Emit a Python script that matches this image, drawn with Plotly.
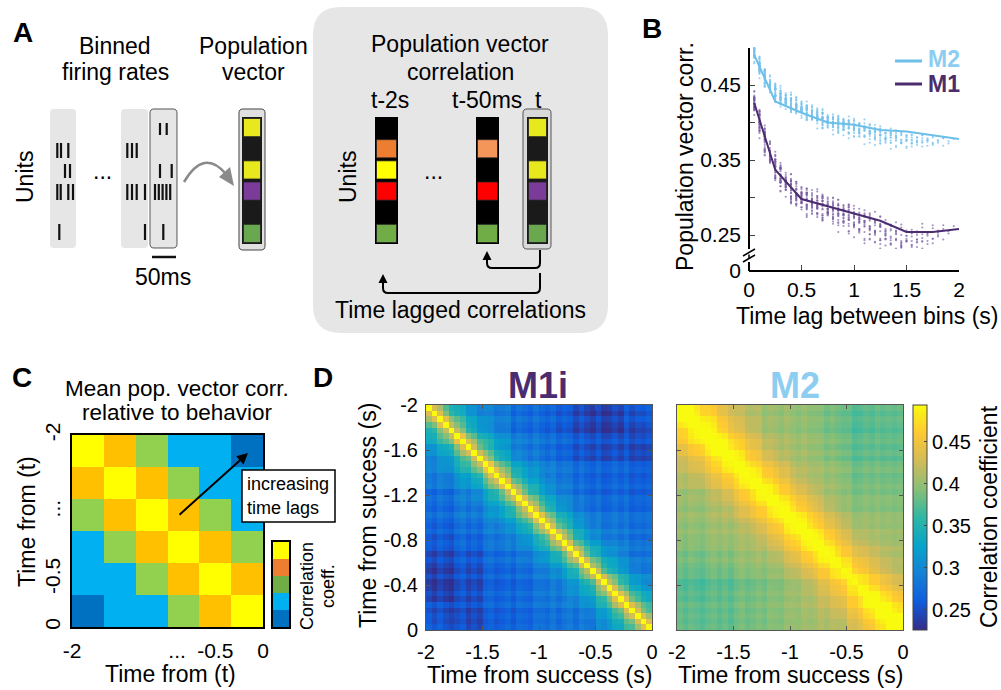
import numpy as np
import plotly.graph_objects as go

W, H = 1001, 690
FONT = "Liberation Sans, Arial, Helvetica, sans-serif"

# ---------------- DATA ----------------
# Panel B: mean population-vector correlation lines (time lag in s)
lag_line_s = [0.05, 0.25, 0.5, 0.75, 1.0, 1.25, 1.5, 1.75, 2.0]
m2_line_corr = [0.490, 0.428, 0.413, 0.400, 0.397, 0.390, 0.388, 0.383, 0.378]
m1_line_corr = [0.426, 0.337, 0.298, 0.288, 0.279, 0.269, 0.254, 0.254, 0.258]

# Mean correlation per lag (lag = k * 50 ms, k = 1..39)
# panel B clouds
m1_lag_profile = [0.420, 0.395, 0.372, 0.352, 0.338, 0.326, 0.318, 0.310, 0.304, 0.300,
                  0.297, 0.295, 0.293, 0.291, 0.289, 0.287, 0.285, 0.283, 0.281, 0.279,
                  0.277, 0.275, 0.273, 0.271, 0.269, 0.266, 0.263, 0.260, 0.257, 0.256,
                  0.256, 0.256, 0.256, 0.256, 0.256, 0.257, 0.257, 0.258, 0.258]
m2_lag_profile = [0.488, 0.470, 0.456, 0.445, 0.436, 0.430, 0.426, 0.423, 0.420, 0.417,
                  0.414, 0.411, 0.408, 0.405, 0.403, 0.401, 0.400, 0.399, 0.398, 0.397,
                  0.396, 0.395, 0.394, 0.392, 0.391, 0.390, 0.390, 0.389, 0.389, 0.388,
                  0.387, 0.386, 0.385, 0.384, 0.383, 0.382, 0.381, 0.380, 0.379]
# panel D heatmaps
m1i_lag_profile = [0.425, 0.388, 0.362, 0.342, 0.328, 0.316, 0.306, 0.298, 0.292, 0.288,
                   0.285, 0.283, 0.281, 0.279, 0.277, 0.276, 0.275, 0.274, 0.273, 0.272,
                   0.271, 0.270, 0.269, 0.268, 0.267, 0.265, 0.263, 0.261, 0.259, 0.258,
                   0.257, 0.257, 0.257, 0.258, 0.258, 0.259, 0.260, 0.262, 0.264]
m2d_lag_profile = [0.490, 0.480, 0.468, 0.458, 0.449, 0.440, 0.432, 0.425, 0.419, 0.414,
                   0.410, 0.407, 0.405, 0.403, 0.401, 0.400, 0.399, 0.398, 0.397, 0.396,
                   0.395, 0.394, 0.393, 0.393, 0.392, 0.391, 0.390, 0.390, 0.389, 0.389,
                   0.388, 0.388, 0.387, 0.387, 0.386, 0.386, 0.386, 0.386, 0.386]

# Regional deviations (8 x 8 blocks of 250 ms), rows: -2 s -> 0 s
m1_block_offsets = [
    [0.008, 0.004, 0.000, -0.004, -0.008, -0.016, -0.018, -0.008],
    [0.004, 0.008, 0.004, 0.000, -0.004, -0.012, -0.016, -0.012],
    [0.000, 0.004, 0.008, 0.004, 0.000, -0.004, -0.008, -0.008],
    [-0.004, 0.000, 0.004, 0.008, 0.004, 0.000, -0.004, -0.004],
    [-0.008, -0.004, 0.000, 0.004, 0.008, 0.004, 0.000, 0.000],
    [-0.016, -0.012, -0.004, 0.000, 0.004, 0.008, 0.004, 0.000],
    [-0.018, -0.016, -0.008, -0.004, 0.000, 0.004, 0.008, 0.004],
    [-0.008, -0.012, -0.008, -0.004, 0.000, 0.000, 0.004, 0.008]]
m2_block_offsets = [
    [0.008, 0.008, 0.004, 0.000, 0.000, -0.004, -0.012, -0.010],
    [0.008, 0.008, 0.004, 0.000, 0.000, -0.004, -0.012, -0.012],
    [0.004, 0.004, 0.004, 0.004, 0.000, 0.000, -0.008, -0.008],
    [0.000, 0.000, 0.004, 0.004, 0.004, 0.000, -0.004, -0.004],
    [0.000, 0.000, 0.000, 0.004, 0.004, 0.004, 0.000, 0.000],
    [-0.004, -0.004, 0.000, 0.000, 0.004, 0.004, 0.004, 0.004],
    [-0.012, -0.012, -0.008, -0.004, 0.000, 0.004, 0.004, 0.008],
    [-0.010, -0.012, -0.008, -0.004, 0.000, 0.004, 0.008, 0.008]]

# Per-bin deviations (40 bins of 50 ms), giving row/column texture
m1_bin_dev = [0.006, -0.004, 0.008, -0.002, -0.009, 0.003, 0.010, -0.006, 0.002, -0.008,
              0.005, 0.009, -0.003, 0.001, 0.007, -0.010, 0.004, -0.001, -0.007, 0.008,
              0.002, -0.005, 0.006, -0.009, 0.000, 0.004, -0.011, 0.003, -0.006, -0.012,
              0.005, -0.008, -0.004, 0.007, -0.002, 0.009, -0.005, 0.003, -0.001, 0.006]
m2_bin_dev = [0.005, -0.002, 0.004, 0.000, -0.005, 0.003, 0.006, -0.002, 0.004, -0.004,
              0.001, 0.005, -0.003, 0.000, 0.004, -0.005, 0.002, 0.000, -0.004, 0.005,
              0.001, -0.003, 0.004, -0.001, 0.000, 0.003, -0.005, 0.001, -0.004, -0.007,
              0.002, -0.008, -0.005, 0.001, -0.003, 0.004, -0.001, 0.003, 0.000, 0.004]

bin_width_s = 0.05
n_bins = 40
block_size = 5
window_start_s = -2.0

# Panel C schematic: colour level by lag (cells)
c_lag_levels = [5, 4, 3, 2, 2, 1]
c_level_colors = ['#0070c0', '#00b0f0', '#92d050', '#ffc000', '#ffff00']
c_cbar_colors = ['#0070c0', '#00b0f0', '#70ad47', '#ed7d31', '#ffff00']

parula = ["#352a87", "#0f5cdd", "#1481d6", "#06a4ca", "#2eb7a4",
          "#87bf77", "#d1bb59", "#fec832", "#f9fb0e"]
d_zmin, d_zmax = 0.226, 0.494
d_cbar_ticks = [0.25, 0.3, 0.35, 0.4, 0.45]
d_x_ticks = [-2, -1.5, -1, -0.5, 0]
d_y_ticks = [-2, -1.6, -1.2, -0.8, -0.4, 0]

M2_COL = '#6cbfe8'
M2_TXT = '#8ccdf0'
M1_COL = '#4b2c6e'

TXT = 23      # main text size
TICK = 21     # tick label size

# ---------------- helpers ----------------
def X(x):
    return x / W

def Y(y):
    return 1 - y / H

def P(x, y):
    return f"{X(x):.5f},{Y(y):.5f}"

shapes = []
annotations = []

def rect(x0, y0, x1, y1, fill, line=None, lw=0):
    shapes.append(dict(type='rect', xref='paper', yref='paper',
                       x0=X(x0), x1=X(x1), y0=Y(y1), y1=Y(y0),
                       fillcolor=fill, line=dict(color=line or fill, width=lw)))

def path(d, fill=None, line='black', lw=1.5):
    s = ''
    for c in d:
        if c[0] == 'Z':
            s += ' Z'
        elif c[0] == 'Q':
            s += f" Q {P(c[1], c[2])} {P(c[3], c[4])}"
        else:
            s += f" {c[0]} {P(c[1], c[2])}"
    shp = dict(type='path', xref='paper', yref='paper', path=s.strip(),
               line=dict(color=line if line else 'rgba(0,0,0,0)', width=lw if line else 0))
    if fill:
        shp['fillcolor'] = fill
    shapes.append(shp)

def rrect(x0, y0, x1, y1, r, fill, line=None, lw=0):
    d = [('M', x0 + r, y0), ('L', x1 - r, y0), ('Q', x1, y0, x1, y0 + r),
         ('L', x1, y1 - r), ('Q', x1, y1, x1 - r, y1), ('L', x0 + r, y1),
         ('Q', x0, y1, x0, y1 - r), ('L', x0, y0 + r), ('Q', x0, y0, x0 + r, y0), ('Z',)]
    path(d, fill=fill, line=line, lw=lw)

def line(x0, y0, x1, y1, color='black', w=1.5):
    shapes.append(dict(type='line', xref='paper', yref='paper',
                       x0=X(x0), y0=Y(y0), x1=X(x1), y1=Y(y1),
                       line=dict(color=color, width=w)))

def ann(text, x, y, size=TXT, bold=False, color='black', angle=0,
        xanchor='center', align='center'):
    if bold:
        text = f"<b>{text}</b>"
    annotations.append(dict(text=text, x=X(x), y=Y(y), xref='paper', yref='paper',
                            showarrow=False, xanchor=xanchor, yanchor='middle',
                            align=align, textangle=angle,
                            font=dict(family=FONT, size=size, color=color)))

def pop_vector(x0, x1, y0, y1, colors, bg='black'):
    rect(x0, y0, x1, y1, bg)
    slot = (y1 - y0) / len(colors)
    for i, c in enumerate(colors):
        if c:
            rect(x0 + 1.5, y0 + i * slot + 1.5, x1 - 1.5, y0 + (i + 1) * slot - 1.5,
                 c, line='#222', lw=0.8)

# ---------------- matrices for panel D (and dots in B) ----------------
def build_matrix(profile, offsets, dev):
    O = np.array(offsets, dtype=float)
    O = (O + O.T) / 2
    M = np.ones((n_bins, n_bins))
    for i in range(n_bins):
        for j in range(n_bins):
            k = abs(i - j)
            if k > 0:
                M[i, j] = (profile[k - 1] + O[i // block_size, j // block_size]
                           + dev[i] + dev[j])
    return M

M1 = build_matrix(m1_lag_profile, m1_block_offsets, m1_bin_dev)
M2 = build_matrix(m2_lag_profile, m2_block_offsets, m2_bin_dev)
M1i_heat = build_matrix(m1i_lag_profile, m1_block_offsets, m1_bin_dev)
M2_heat = build_matrix(m2d_lag_profile, m2_block_offsets, m2_bin_dev)
centers = [window_start_s + bin_width_s * (i + 0.5) for i in range(n_bins)]

def lag_dots(M):
    xs, ys = [], []
    for k in range(1, n_bins):
        for i in range(n_bins - k):
            xs.append(k * bin_width_s)
            ys.append(M[i, i + k])
    return xs, ys

m2_dx, m2_dy = lag_dots(M2)
m1_dx, m1_dy = lag_dots(M1)

parula_scale = [[i / (len(parula) - 1), c] for i, c in enumerate(parula)]

fig = go.Figure()

# ---- Panel D heatmaps ----
fig.add_trace(go.Heatmap(z=M1i_heat, x=centers, y=centers, xaxis='x4', yaxis='y4',
                         colorscale=parula_scale, zmin=d_zmin, zmax=d_zmax,
                         showscale=False, hoverinfo='skip'))
fig.add_trace(go.Heatmap(z=M2_heat, x=centers, y=centers, xaxis='x5', yaxis='y5',
                         colorscale=parula_scale, zmin=d_zmin, zmax=d_zmax,
                         hoverinfo='skip',
                         colorbar=dict(x=X(913), xanchor='left', y=Y(517.5), yanchor='middle',
                                       len=225, lenmode='pixels', thickness=14,
                                       thicknessmode='pixels', outlinewidth=1,
                                       outlinecolor='#444', tickvals=d_cbar_ticks,
                                       ticktext=[str(v) for v in d_cbar_ticks],
                                       ticks='inside', ticklen=3, tickcolor='#444',
                                       tickfont=dict(family=FONT, size=20, color='black'),
                                       xpad=0, ypad=0)))

# ---- Panel C heatmap ----
nc = len(c_lag_levels)
cz = [[c_lag_levels[abs(i - j)] for j in range(nc)] for i in range(nc)]
cc = [-2 + (i + 0.5) * 2 / nc for i in range(nc)]
c_scale = []
for k, c in enumerate(c_level_colors):
    c_scale += [[k / len(c_level_colors), c], [(k + 1) / len(c_level_colors), c]]
fig.add_trace(go.Heatmap(z=cz, x=cc, y=cc, xaxis='x3', yaxis='y3', colorscale=c_scale,
                         zmin=0.5, zmax=len(c_level_colors) + 0.5, showscale=False,
                         hoverinfo='skip'))
cb_scale = []
for k, c in enumerate(c_cbar_colors):
    cb_scale += [[k / len(c_cbar_colors), c], [(k + 1) / len(c_cbar_colors), c]]
fig.add_trace(go.Heatmap(z=[[k + 1] for k in range(len(c_cbar_colors))], x=[0],
                         y=list(range(1, len(c_cbar_colors) + 1)), xaxis='x6', yaxis='y6',
                         colorscale=cb_scale, zmin=0.5, zmax=len(c_cbar_colors) + 0.5,
                         showscale=False, hoverinfo='skip'))

# ---- Panel B ----
fig.add_trace(go.Scatter(x=m2_dx, y=m2_dy, mode='markers', xaxis='x', yaxis='y',
                         marker=dict(size=2.2, color='rgba(120,195,238,0.75)'),
                         hoverinfo='skip', showlegend=False))
fig.add_trace(go.Scatter(x=m1_dx, y=m1_dy, mode='markers', xaxis='x', yaxis='y',
                         marker=dict(size=2.2, color='rgba(120,90,160,0.65)'),
                         hoverinfo='skip', showlegend=False))
fig.add_trace(go.Scatter(x=lag_line_s, y=m2_line_corr, mode='lines', xaxis='x', yaxis='y',
                         line=dict(color=M2_COL, width=2), hoverinfo='skip', showlegend=False))
fig.add_trace(go.Scatter(x=lag_line_s, y=m1_line_corr, mode='lines', xaxis='x', yaxis='y',
                         line=dict(color=M1_COL, width=2), hoverinfo='skip', showlegend=False))
# invisible trace so that the lower (broken) y axis has a subplot
fig.add_trace(go.Scatter(x=[None], y=[None], xaxis='x', yaxis='y2', mode='markers',
                         hoverinfo='skip', showlegend=False))

tickfont = dict(family=FONT, size=TICK, color='black')
dtickfont = dict(family=FONT, size=20, color='black')

# B axis geometry
b_y_top_px, b_y_bot_px = 47.5, 249
v_per_px = 0.1 / 75.0
b_range = [0.25 - (b_y_bot_px - 235) * v_per_px, 0.45 + (85 - b_y_top_px) * v_per_px]

common = dict(showgrid=False, zeroline=False, automargin=False)
layout_axes = dict(
    xaxis=dict(domain=[X(749), X(959)], range=[0, 2], anchor='free', position=Y(271),
               showline=True, linecolor='black', linewidth=1.5, ticks='inside', ticklen=5,
               tickvals=[0, 0.5, 1, 1.5, 2], ticktext=['0', '0.5', '1', '1.5', '2'],
               tickfont=tickfont, ticklabelstandoff=0, **common),
    yaxis=dict(domain=[Y(b_y_bot_px), Y(b_y_top_px)], range=b_range, anchor='free',
               position=X(749),
               showline=True, linecolor='black', linewidth=1.5, ticks='inside', ticklen=5,
               tickvals=[0.25, 0.3, 0.35, 0.4, 0.45, 0.5],
               ticktext=['0.25', '', '0.35', '', '0.45', ''],
               tickfont=tickfont, ticklabelstandoff=3, **common),
    yaxis2=dict(domain=[Y(271), Y(262)], range=[0, 0.02], anchor='free', position=X(749),
                showline=True, linecolor='black', linewidth=1.5, ticks='', tickvals=[0],
                ticktext=['0'], tickfont=tickfont, ticklabelstandoff=3, **common),
    xaxis3=dict(domain=[X(72), X(263)], range=[-2, 0], anchor='y3', showline=True,
                mirror=True, linecolor='black', linewidth=2, ticks='',
                tickvals=[-2, -0.9, -0.5, 0], ticktext=['-2', '...', '-0.5', '0'],
                tickfont=tickfont, ticklabelstandoff=4, **common),
    yaxis3=dict(domain=[Y(627), Y(435)], range=[0, -2], anchor='x3', showline=True,
                mirror=True, linecolor='black', linewidth=2, ticks='',
                tickvals=[-2, -1.2, -0.5, 0], ticktext=['-2', '...', '-0.5', '0'],
                tickangle=-90, tickfont=tickfont, ticklabelstandoff=2, **common),
    xaxis4=dict(domain=[X(426), X(652)], range=[-2, 0], anchor='y4', showline=True,
                mirror='ticks', linecolor='#555', linewidth=1, ticks='inside', ticklen=4,
                tickcolor='#555', tickvals=d_x_ticks, ticktext=[str(v) for v in d_x_ticks],
                tickfont=dtickfont, ticklabelstandoff=4, **common),
    yaxis4=dict(domain=[Y(630), Y(405)], range=[0, -2], anchor='x4', showline=True,
                mirror='ticks', linecolor='#555', linewidth=1, ticks='inside', ticklen=4,
                tickcolor='#555', tickvals=d_y_ticks, ticktext=[str(v) for v in d_y_ticks],
                tickfont=dtickfont, ticklabelstandoff=3, **common),
    xaxis5=dict(domain=[X(677), X(903)], range=[-2, 0], anchor='y5', showline=True,
                mirror='ticks', linecolor='#555', linewidth=1, ticks='inside', ticklen=4,
                tickcolor='#555', tickvals=d_x_ticks, ticktext=[str(v) for v in d_x_ticks],
                tickfont=dtickfont, ticklabelstandoff=4, **common),
    yaxis5=dict(domain=[Y(630), Y(405)], range=[0, -2], anchor='x5', showline=True,
                mirror='ticks', linecolor='#555', linewidth=1, ticks='inside', ticklen=4,
                tickcolor='#555', tickvals=d_y_ticks, showticklabels=False, **common),
    xaxis6=dict(domain=[X(273), X(289)], range=[-0.5, 0.5], anchor='y6', showline=True,
                mirror=True, linecolor='black', linewidth=2, ticks='', showticklabels=False,
                **common),
    yaxis6=dict(domain=[Y(627), Y(542)], range=[0.5, len(c_cbar_colors) + 0.5], anchor='x6',
                showline=True, mirror=True, linecolor='black', linewidth=2, ticks='',
                showticklabels=False, **common),
)

# ---------------- Panel A drawing ----------------
rrect(313, 7, 608, 333, 28, '#e6e6e6')

bin_cols = [(50, 76), (121, 148), (150, 177)]
for i, (x0, x1) in enumerate(bin_cols):
    rrect(x0, 109, x1, 248, 4, '#e6e6e6', line='#555' if i == 2 else None, lw=1 if i == 2 else 0)

spike_rows = [(123, 135), (143, 158), (164, 178), (184, 200), (224, 240)]
spikes = [
    {1: [57.3, 61.0, 68.3], 2: [65.0, 70.0], 3: [57.3, 60.7, 68.3, 73.0], 4: [59.3]},
    {1: [127.3, 132.0, 136.7], 3: [127.3, 132.0, 136.7, 145.0], 4: [145.0]},
    {0: [160.0, 166.7], 2: [160.0, 171.7], 3: [155.0, 158.8, 162.6, 166.4, 170.2], 4: [163.3]},
]
for col in spikes:
    for r, xs in col.items():
        for xx in xs:
            line(xx, spike_rows[r][0], xx, spike_rows[r][1], color='#111', w=2.2)

line(152, 257, 176, 257, color='#111', w=2.5)

path([('M', 184, 182), ('Q', 204, 148, 226, 174)], line='#8a8a8a', lw=2.5)
path([('M', 234, 186), ('L', 219, 177), ('L', 230, 167), ('Z',)], fill='#8a8a8a', line=None)

vec_now = ['#e8e81e', None, '#e8e81e', '#7a3c98', None, '#6aa84f']
vec_t2s = [None, '#ed7d31', '#ffff00', '#ff0000', None, '#70ad47']
vec_t50 = [None, '#f4955a', None, '#ff0000', None, '#70ad47']

rrect(239, 109, 265, 250, 4, '#e0e0e0', line='#444', lw=1)
pop_vector(242, 262, 117, 244, vec_now, bg='#1a1a1a')

pop_vector(375, 398, 117, 244, vec_t2s)
pop_vector(476, 499, 117, 244, vec_t50)
rrect(523, 109, 551, 249, 4, '#d9d9d9', line='#555', lw=1)
pop_vector(527, 548, 117, 244, vec_now, bg='#1a1a1a')

path([('M', 540, 250), ('L', 540, 263), ('Q', 540, 268, 535, 268), ('L', 492, 268),
      ('Q', 487, 268, 487, 263), ('L', 487, 259)], line='black', lw=2)
path([('M', 487, 251), ('L', 482.5, 260), ('L', 491.5, 260), ('Z',)], fill='black', line=None)
path([('M', 540, 273), ('L', 540, 288), ('Q', 540, 293, 535, 293), ('L', 388, 293),
      ('Q', 383, 293, 383, 288), ('L', 383, 282)], line='black', lw=2)
path([('M', 383, 274), ('L', 378.5, 283), ('L', 387.5, 283), ('Z',)], fill='black', line=None)

# ---------------- Panel B extras ----------------
rect(740, 250, 758, 261, 'white')
line(743, 256, 755, 249, color='black', w=1.5)
line(743, 262, 755, 255, color='black', w=1.5)
line(749, 254.5, 749, 258.5, color='black', w=1.5)
line(895, 61, 922, 61, color=M2_COL, w=3)
line(895, 84, 922, 84, color=M1_COL, w=3)

# ---------------- Panel C extras ----------------
rect(242, 470, 335, 522, 'white', line='black', lw=1.5)
annotations.append(dict(x=X(248), y=Y(453), ax=178 - 248, ay=516 - 453, xref='paper',
                        yref='paper', axref='pixel', ayref='pixel', text='', showarrow=True,
                        arrowhead=2, arrowsize=1.1, arrowwidth=2, arrowcolor='black'))

# ---------------- text ----------------
ann('A', 23, 32, size=28, bold=True)
ann('B', 652, 28, size=28, bold=True)
ann('C', 22, 377, size=28, bold=True)
ann('D', 323, 377, size=28, bold=True)

ann('Binned', 115, 46)
ann('firing rates', 115, 72)
ann('Population', 253, 46)
ann('vector', 253, 72)
ann('Units', 25, 177, angle=-90)
ann('...', 102, 171)
ann('50ms', 163, 277)
ann('Population vector', 460, 44)
ann('correlation', 460, 72)
ann('t-2s', 390, 100)
ann('t-50ms', 487, 100)
ann('t', 538, 100)
ann('Units', 348, 177, angle=-90)
ann('...', 433, 171)
ann('Time lagged correlations', 460, 310)

ann('Population vector corr.', 685, 157, angle=-90)
ann('Time lag between bins (s)', 867, 316)
ann('M2', 926, 59, size=23, bold=True, color=M2_TXT, xanchor='left')
ann('M1', 926, 84, size=23, bold=True, color=M1_COL, xanchor='left')

ann('Mean pop. vector corr.', 177, 388, size=22.5)
ann('relative to behavior', 177, 413, size=22.5)
ann('Time from (t)', 170, 674)
ann('Time from (t)', 27, 522, angle=-90)
ann('increasing', 245, 484, size=18, xanchor='left')
ann('time lags', 245, 508, size=18, xanchor='left')
ann('Correlation', 307, 586, size=18, angle=-90)
ann('coeff.', 328, 586, size=18, angle=-90)

ann('M1i', 538, 386, size=36, bold=True, color=M1_COL)
ann('M2', 795, 386, size=36, bold=True, color=M2_TXT)
ann('Time from success (s)', 539, 675)
ann('Time from success (s)', 790, 675)
ann('Time from success (s)', 368, 516, angle=-90)
ann('Correlation coefficient', 989, 517, angle=-90)

fig.update_layout(width=W, height=H, margin=dict(l=0, r=0, t=0, b=0, pad=0),
                  autosize=False,
                  paper_bgcolor='white', plot_bgcolor='rgba(0,0,0,0)',
                  showlegend=False, shapes=shapes, annotations=annotations,
                  font=dict(family=FONT, color='black'), **layout_axes)

fig.write_html("out.html", config={'displayModeBar': False, 'responsive': False},
               post_script="document.body.style.margin='0px';document.body.style.overflow='hidden';")
